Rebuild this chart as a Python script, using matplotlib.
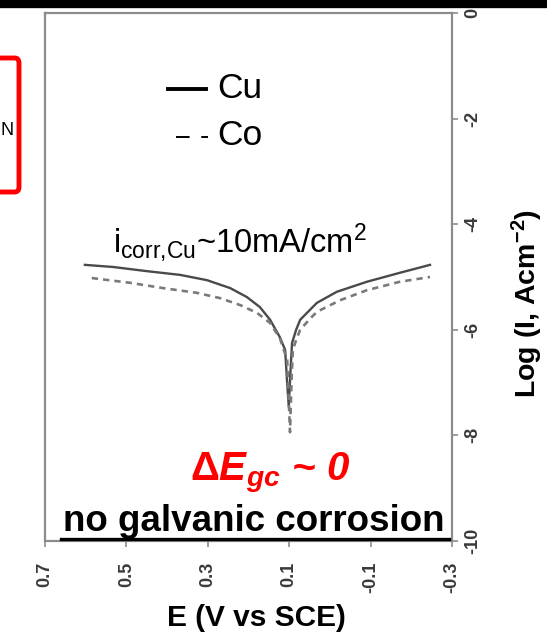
import matplotlib
matplotlib.use("Agg")
import matplotlib.pyplot as plt
from matplotlib.lines import Line2D
from matplotlib.patches import FancyBboxPatch

plt.rcParams['font.family'] = ['Liberation Sans', 'DejaVu Sans']
plt.rcParams['mathtext.fontset'] = 'custom'
plt.rcParams['mathtext.rm'] = 'Liberation Sans'
plt.rcParams['mathtext.it'] = 'Liberation Sans:italic'
plt.rcParams['mathtext.bf'] = 'Liberation Sans:bold'
plt.rcParams['mathtext.bfit'] = 'Liberation Sans:bold:italic'

# Tafel curves: potential (V vs SCE) and log current density
cu_E = [0.602, 0.533, 0.449, 0.368, 0.302, 0.245, 0.204, 0.172, 0.147, 0.123, 0.110,
        0.105, 0.101, 0.097, 0.093, 0.083, 0.073, 0.050, 0.032, -0.017, -0.091,
        -0.172, -0.246]
cu_logI = [-4.77, -4.81, -4.89, -4.96, -5.06, -5.21, -5.38, -5.57, -5.81, -6.14, -6.38,
           -7.01, -7.46, -6.80, -6.25, -6.00, -5.81, -5.63, -5.49, -5.28, -5.09,
           -4.92, -4.77]

co_E = [0.585, 0.491, 0.410, 0.327, 0.270, 0.221, 0.179, 0.147, 0.123, 0.105, 0.098,
        0.094, 0.091, 0.082, 0.073, 0.050, 0.032, -0.025, -0.091, -0.172, -0.246]
co_logI = [-5.02, -5.11, -5.21, -5.30, -5.40, -5.53, -5.68, -5.87, -6.16, -6.57, -7.94,
           -6.90, -6.38, -6.17, -6.00, -5.80, -5.66, -5.44, -5.25, -5.09, -5.00]

x_ticks = [0.7, 0.5, 0.3, 0.1, -0.1, -0.3]
x_labels = ['0.7', '0.5', '0.3', '0.1', '-0.1', '-0.3']
y_ticks = [0, -2, -4, -6, -8, -10]
y_labels = ['0', '-2', '-4', '-6', '-8', '-10']

W, H = 547, 638
fig = plt.figure(figsize=(W / 100, H / 100), dpi=100)


def fx(px):
    return px / W


def fy(py):
    return 1 - py / H


ax = fig.add_axes([fx(45), fy(541), fx(452) - fx(45), fy(13) - fy(541)])
ax.plot(cu_E, cu_logI, color='#4a4a4a', lw=1.7)
ax.plot(co_E, co_logI, color='#7a7a7a', lw=1.9, ls=(0, (2.4, 1.9)))
ax.set_xlim(0.7, -0.3)
ax.set_ylim(-10, 0)

for s in ax.spines.values():
    s.set_color('#8c8c8c')
    s.set_linewidth(1.6)

ax.set_xticks(x_ticks)
ax.set_xticklabels(x_labels, rotation=90, va='top', ha='center')
ax.yaxis.tick_right()
ax.set_yticks(y_ticks)
ax.set_yticklabels(y_labels, rotation=90, va='center', ha='left')
ax.tick_params(axis='both', direction='out', length=4, width=1.2, color='#8c8c8c',
               labelsize=13, labelcolor='#3a3a3a')
ax.tick_params(axis='x', pad=11)
ax.tick_params(axis='y', pad=5)
for lab in ax.get_xticklabels() + ax.get_yticklabels():
    lab.set_fontweight('bold')

# axis titles
fig.text(fx(256), fy(618), 'E (V vs SCE)', fontsize=21.5, fontweight='bold',
         ha='center', va='center')
fig.text(fx(527), fy(303), r'Log (I, Acm$^{\mathbf{-2}}$)', fontsize=20.5,
         fontweight='bold', rotation=90, ha='center', va='center')

# legend drawn as text with line samples
fig.add_artist(Line2D([fx(168), fx(206)], [fy(89), fy(89)], color='black', lw=2.8))
fig.text(fx(217), fy(89), 'Cu', fontsize=25.5, ha='left', va='center')
fig.add_artist(Line2D([fx(176), fx(208)], [fy(137), fy(137)], color='black', lw=1.4,
                      ls=(0, (7, 6))))
fig.text(fx(217), fy(135), 'Co', fontsize=25.5, ha='left', va='center')

fig.text(fx(113), fy(253), r'i$_{\mathrm{corr{,}Cu}}$~10mA/cm$^{\mathrm{2}}$',
         fontsize=23.5, ha='left', va='baseline')

fig.text(fx(190), fy(480), r'$\mathbf{\Delta}\mathbfit{E}_{\mathbfit{gc}}$ ~ 0',
         fontsize=29, color='#ff0000', fontweight='bold', style='italic',
         ha='left', va='baseline')

fig.text(fx(254), fy(531), 'no galvanic corrosion', fontsize=26.5, fontweight='bold',
         ha='center', va='baseline')
fig.add_artist(Line2D([fx(61), fx(449)], [fy(539), fy(539)], color='black', lw=2.4))

# slide decorations cut by the crop
fig.add_artist(Line2D([0, 1], [fy(4), fy(4)], color='black', lw=6))
fig.add_artist(FancyBboxPatch((fx(-20), fy(192)), fx(39), fy(58) - fy(192),
                              boxstyle='round,pad=0,rounding_size=0.008',
                              transform=fig.transFigure, fill=False,
                              edgecolor='#ff0000', lw=3.5))
fig.text(fx(1), fy(130), 'N', fontsize=13, ha='left', va='center')

fig.savefig('out.png', dpi=100)
